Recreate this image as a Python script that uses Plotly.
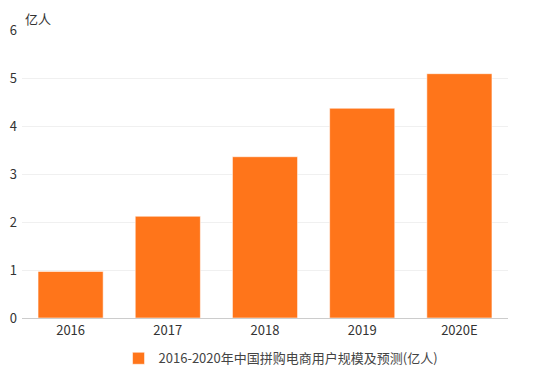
import plotly.graph_objects as go

categories = ["2016", "2017", "2018", "2019", "2020E"]
values = [0.97, 2.12, 3.36, 4.37, 5.09]
series_name = "2016-2020年中国拼购电商用户规模及预测(亿人)"
unit_label = "亿人"
y_ticks = [0, 1, 2, 3, 4, 5, 6]

FONT = "Noto Sans CJK SC, Open Sans, sans-serif"

fig = go.Figure()
fig.add_trace(go.Bar(
    x=categories, y=values, name=series_name,
    marker=dict(color="#FF751A", line=dict(color="rgba(255,255,255,0.55)", width=1)),
    showlegend=True,
))

# page body has an 8px default margin, so margins are compensated
fig.update_layout(
    width=550, height=377,
    margin=dict(l=14, r=50, t=22, b=67, autoexpand=False),
    paper_bgcolor="white", plot_bgcolor="white",
    font=dict(family=FONT, size=13, color="#333333"),
    bargap=0.33,
    showlegend=True,
    legend=dict(orientation="h", x=0.533, xanchor="center", y=-0.14, yanchor="middle",
                font=dict(size=13, color="#444444"), itemwidth=30),
    xaxis=dict(showgrid=False, showline=True, linecolor="#cccccc", linewidth=1,
               ticks="", tickfont=dict(size=13, color="#333333"), automargin=False),
    yaxis=dict(range=[0, 6], tickvals=y_ticks, showgrid=True, gridcolor="#f0f0f0",
               zeroline=False, showline=False, ticks="", ticklabelstandoff=4,
               automargin=False, tickfont=dict(size=13, color="#333333")),
    annotations=[dict(text=unit_label, xref="paper", yref="paper", x=0.0, y=1.0,
                      xanchor="left", yanchor="bottom", showarrow=False, yshift=0, xshift=1,
                      font=dict(size=13, color="#333333"))],
)

fig.write_html("out.html")
